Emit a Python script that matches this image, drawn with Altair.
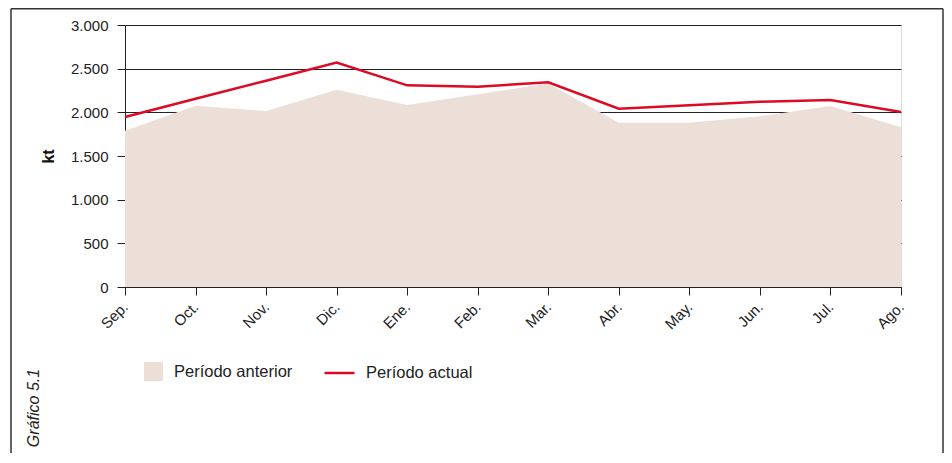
import altair as alt
import pandas as pd

months = ["Sep.", "Oct.", "Nov.", "Dic.", "Ene.", "Feb.", "Mar.", "Abr.", "May.", "Jun.", "Jul.", "Ago."]
anterior = [1790, 2076, 2015, 2260, 2084, 2206, 2330, 1882, 1882, 1954, 2073, 1828]
actual = [1947, 2156, 2362, 2569, 2309, 2294, 2344, 2042, 2080, 2122, 2141, 2004]

FONT = "Liberation Sans, Arial, sans-serif"
RED = "#DC0A24"
SAND = "#EBDFD7"

df = pd.DataFrame({
    "mes": months,
    "anterior": anterior,
    "actual": actual,
    "s_ant": ["Período anterior"] * len(months),
    "s_act": ["Período actual"] * len(months),
})

x_enc = alt.X(
    "mes:N", sort=months, title=None,
    scale=alt.Scale(type="point", padding=0),
    axis=alt.Axis(labelAngle=-45, labelAlign="right", labelBaseline="middle",
                  tickSize=8, labelPadding=9, domainColor="#222", tickColor="#222",
                  labelFont=FONT, labelFontSize=15, labelColor="#222", grid=False),
)
y_scale = alt.Scale(domain=[0, 3000])
y_axis = alt.Axis(values=[0, 500, 1000, 1500, 2000, 2500, 3000],
                  labelExpr="replace(format(datum.value, ',d'), ',', '.')",
                  tickSize=8, labelPadding=9, domainColor="#222", tickColor="#222",
                  gridColor="#222", gridWidth=1, grid=True,
                  labelFont=FONT, labelFontSize=15, labelColor="#222",
                  title="kt", titleFont=FONT, titleFontSize=16, titleFontWeight="bold",
                  titleColor="#111", titlePadding=14)

area = alt.Chart(df).mark_area(opacity=1).encode(
    x=x_enc,
    y=alt.Y("anterior:Q", scale=y_scale, axis=y_axis),
    fill=alt.Fill("s_ant:N", scale=alt.Scale(domain=["Período anterior"], range=[SAND]),
                  legend=alt.Legend(orient="none", legendX=19, legendY=337, title=None,
                                    symbolType="square", symbolSize=361, symbolStrokeWidth=0,
                                    labelFont=FONT, labelFontSize=16.5, labelColor="#222",
                                    labelOffset=11, padding=0)),
)

line = alt.Chart(df).mark_line(strokeWidth=2.5).encode(
    x=alt.X("mes:N", sort=months),
    y=alt.Y("actual:Q", scale=y_scale),
    stroke=alt.Stroke("s_act:N", scale=alt.Scale(domain=["Período actual"], range=[RED]),
                      legend=alt.Legend(orient="none", legendX=198, legendY=331.5, title=None,
                                        symbolType="stroke", symbolSize=900, symbolStrokeWidth=2.5,
                                        labelFont=FONT, labelFontSize=16.5, labelColor="#222",
                                        labelOffset=10, padding=0)),
)

one = alt.Data(values=[{"t": "Gráfico 5.1"}])
frame_left = alt.Chart(one).mark_rule(color="#333", strokeWidth=1.5).encode(
    x=alt.value(-114), y=alt.value(-16.2), y2=alt.value(430))
frame_right = alt.Chart(one).mark_rule(color="#333", strokeWidth=1.5).encode(
    x=alt.value(818), y=alt.value(-16.2), y2=alt.value(430))
frame_top = alt.Chart(one).mark_rule(color="#333", strokeWidth=1.5).encode(
    x=alt.value(-114), x2=alt.value(818), y=alt.value(-16.2))
label = alt.Chart(one).mark_text(angle=270, font=FONT, fontSize=16, fontStyle="italic",
                                 color="#222", align="center", baseline="middle").encode(
    text="t:N", x=alt.value(-91), y=alt.value(383))

chart = alt.layer(area, line, frame_left, frame_right, frame_top, label).resolve_scale(
    fill="independent", stroke="independent"
).properties(
    width=776, height=262,
    padding={"left": 117, "top": 17, "right": 43, "bottom": 166},
    autosize=alt.AutoSizeParams(type="none"),
).configure_view(stroke="#222", strokeWidth=1).configure(background="white")

chart.save("out.html", embed_options={"renderer": "svg", "actions": False})
